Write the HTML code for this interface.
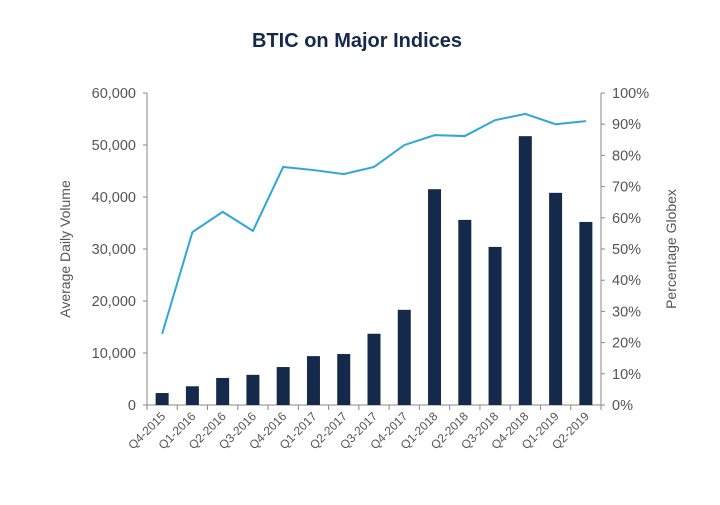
<!DOCTYPE html>
<html><head><meta charset="utf-8"><style>
body{margin:0;background:#fff;font-family:"Liberation Sans",sans-serif}
svg text{font-family:"Liberation Sans",sans-serif}
</style></head><body>
<svg id="chart" width="720" height="500" xmlns="http://www.w3.org/2000/svg">
<text x="357" y="47" text-anchor="middle" font-size="20" font-weight="bold" fill="#152a4a">BTIC on Major Indices</text>
<g id="axes"></g><g id="bars"></g><g id="line"></g>
<text transform="translate(70,249) rotate(-90)" text-anchor="middle" font-size="14" fill="#555">Average Daily Volume</text>
<text transform="translate(676,249) rotate(-90)" text-anchor="middle" font-size="14" fill="#555">Percentage Globex</text>
</svg>
<script>
const categories=["Q4-2015","Q1-2016","Q2-2016","Q3-2016","Q4-2016","Q1-2017","Q2-2017","Q3-2017","Q4-2017","Q1-2018","Q2-2018","Q3-2018","Q4-2018","Q1-2019","Q2-2019"];
const volume=[2300,3600,5200,5800,7300,9400,9800,13700,18300,41500,35600,30400,51700,40800,35200];
const pctGlobex=[22.8,55.4,61.9,55.8,76.3,75.3,74,76.3,83.3,86.5,86.2,91.3,93.3,90,91];
const leftTicks=[0,10000,20000,30000,40000,50000,60000];
const rightTicks=[0,10,20,30,40,50,60,70,80,90,100];
const NS="http://www.w3.org/2000/svg";
const X0=147,X1=601,YT=93,YB=405,step=(X1-X0)/categories.length;
const xC=i=>X0+step*(i+0.5);
const yL=v=>YB-(v/60000)*(YB-YT);
const yR=v=>YB-(v/100)*(YB-YT);
function mk(tag,attrs,parent,txt){const e=document.createElementNS(NS,tag);for(const k in attrs)e.setAttribute(k,attrs[k]);if(txt!==undefined)e.textContent=txt;parent.appendChild(e);return e;}
const axes=document.getElementById('axes'),bars=document.getElementById('bars'),line=document.getElementById('line');
let e;
e=mk('line',{x1:X0,y1:YT,x2:X0,y2:YB,stroke:'#888'},axes);

e=mk('line',{x1:X1,y1:YT,x2:X1,y2:YB,stroke:'#888'},axes);

e=mk('line',{x1:X0,y1:YB,x2:X1,y2:YB,stroke:'#888'},axes);

leftTicks.forEach(v=>{
  mk('line',{x1:X0-4,y1:yL(v),x2:X0,y2:yL(v),stroke:'#888'},axes);
  e=mk('text',{x:X0-11,y:yL(v)+5,'text-anchor':'end','font-size':14.5,fill:'#555'},axes,v.toLocaleString('en-US'));
  
});
rightTicks.forEach(v=>{
  mk('line',{x1:X1,y1:yR(v),x2:X1+4,y2:yR(v),stroke:'#888'},axes);
  e=mk('text',{x:X1+11,y:yR(v)+5,'font-size':14.5,fill:'#555'},axes,v+'%');
  
});
for(let i=0;i<=categories.length;i++)mk('line',{x1:X0+step*i,y1:YB,x2:X0+step*i,y2:YB+5,stroke:'#888'},axes);
categories.forEach((c,i)=>{
  e=mk('text',{transform:`translate(${xC(i)+4},${YB+12}) rotate(-45)`,'text-anchor':'end','font-size':12,fill:'#555'},axes,c);
  
});
volume.forEach((v,i)=>{
  e=mk('rect',{x:xC(i)-6.5,y:yL(v),width:13,height:YB-yL(v),fill:'#152a4a'},bars);
  
});
e=mk('polyline',{points:pctGlobex.map((v,i)=>xC(i)+','+yR(v)).join(' '),fill:'none',stroke:'#2fa6d9','stroke-width':2},line);

</script>
</body></html>
